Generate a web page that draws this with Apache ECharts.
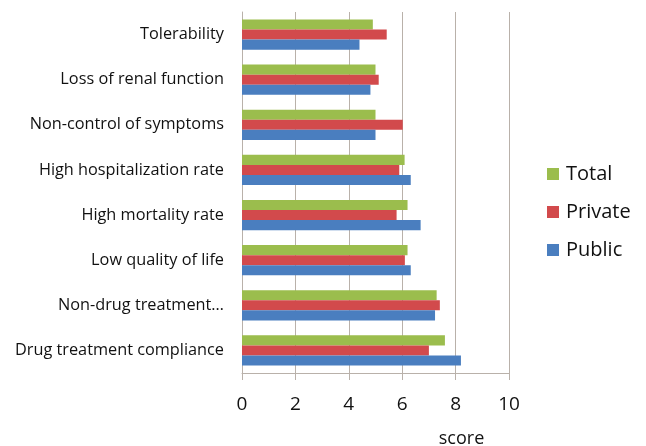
<!DOCTYPE html>
<html>
<head>
<meta charset="utf-8">
<script src="https://cdn.jsdelivr.net/npm/echarts@6/dist/echarts.min.js"></script>
<style>
  html, body { margin: 0; padding: 0; background: #ffffff; }
  #chart { width: 646px; height: 446px; }
</style>
</head>
<body>
<div id="chart"></div>
<script>
// Outcome categories, listed bottom to top along the vertical axis
const categories = [
  'Drug treatment compliance',
  'Non-drug treatment…',
  'Low quality of life',
  'High mortality rate',
  'High hospitalization rate',
  'Non-control of symptoms',
  'Loss of renal function',
  'Tolerability'
];

// Mean scores per sector, same order as categories
const publicScores  = [8.2, 7.23, 6.32, 6.69, 6.32, 5.0, 4.81, 4.4];
const privateScores = [7.0, 7.41, 6.1, 5.79, 5.89, 6.02, 5.12, 5.42];
const totalScores   = [7.6, 7.29, 6.2, 6.2, 6.09, 5.0, 5.0, 4.9];

const xTicks = [0, 2, 4, 6, 8, 10];

const gridColor = '#b9b1aa';
const textColor = '#111111';
const font = '"Open Sans", "DejaVu Sans", sans-serif';

const chart = echarts.init(document.getElementById('chart'));
chart.setOption({
  animation: false,
  backgroundColor: '#ffffff',
  textStyle: { fontFamily: font },
  grid: { left: 242, right: 137, top: 12, bottom: 73, containLabel: false, outerBoundsMode: 'none' },
  legend: {
    orient: 'vertical',
    left: 547,
    top: 164,
    padding: 0,
    itemWidth: 12,
    itemHeight: 12,
    itemGap: 18,
    icon: 'rect',
    data: ['Total', 'Private', 'Public'],
    textStyle: { fontSize: 20, color: textColor, fontFamily: font, padding: [0, 0, 0, 2] }
  },
  xAxis: {
    type: 'value',
    min: xTicks[0],
    max: xTicks[xTicks.length - 1],
    interval: 2,
    name: 'score',
    nameLocation: 'middle',
    nameGap: 57,
    nameTextStyle: { fontSize: 18, color: textColor, fontFamily: font, padding: [0, 0, 0, 172] },
    axisLine: { show: true, lineStyle: { color: gridColor, width: 1 } },
    axisTick: { show: true, length: 7, lineStyle: { color: gridColor } },
    axisLabel: { fontSize: 19, color: textColor, margin: 22, fontFamily: font },
    splitLine: { show: true, lineStyle: { color: gridColor, width: 1 } }
  },
  yAxis: {
    type: 'category',
    data: categories,
    axisLine: { show: true, lineStyle: { color: gridColor, width: 1 } },
    axisTick: { show: false },
    axisLabel: { fontSize: 16.3, color: textColor, margin: 18, fontFamily: font }
  },
  series: [
    {
      name: 'Total', type: 'bar', data: totalScores,
      barGap: '0%', barCategoryGap: '33%',
      itemStyle: { color: '#9bbd4d' }
    },
    {
      name: 'Private', type: 'bar', data: privateScores,
      barGap: '0%', barCategoryGap: '33%',
      itemStyle: { color: '#d24a4c' }
    },
    {
      name: 'Public', type: 'bar', data: publicScores,
      barGap: '0%', barCategoryGap: '33%',
      itemStyle: { color: '#4a7ebf' }
    }
  ]
});
</script>
</body>
</html>
